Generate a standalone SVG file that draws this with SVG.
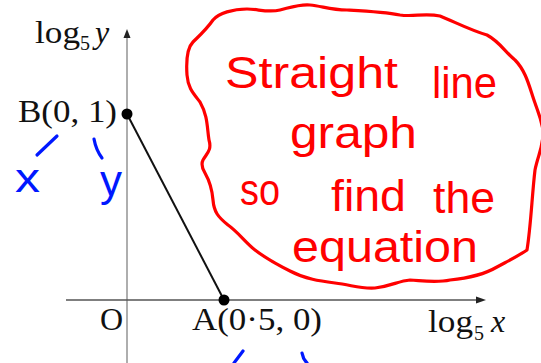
<svg xmlns="http://www.w3.org/2000/svg" width="541" height="363" viewBox="0 0 541 363">
<style>
.lbl{font-family:"Liberation Serif","Times New Roman",serif;font-size:32px;fill:#111}
.sub{font-family:"Liberation Serif","Times New Roman",serif;font-size:20px;fill:#111}
.it{font-style:italic}
.hand{font-family:"Liberation Sans",Arial,sans-serif;font-size:44px;fill:#ff0000}
.blue{font-family:"Liberation Sans",Arial,sans-serif;fill:#0018ff}
.bstroke{fill:none;stroke:#0018ff;stroke-width:3.2;stroke-linecap:round}
</style>
<rect width="541" height="363" fill="#ffffff"/>
<g id="axes">
  <line x1="127" y1="36" x2="127" y2="363" stroke="#9a9a9a" stroke-width="1.6"/>
  <polygon points="127,29 123.5,38 130.5,38" fill="#222"/>
  <line x1="66" y1="300" x2="478" y2="300" stroke="#555" stroke-width="1.6"/>
  <polygon points="486,300 476,296.5 476,303.5" fill="#222"/>
  <text class="lbl" x="35" y="43" textLength="45" lengthAdjust="spacingAndGlyphs">log</text>
  <text class="sub" x="80" y="50">5</text>
  <text class="lbl it" x="95" y="43">y</text>
  <text class="lbl" x="428" y="332" textLength="45" lengthAdjust="spacingAndGlyphs">log</text>
  <text class="sub" x="474" y="340">5</text>
  <text class="lbl it" x="491" y="332">x</text>
  <text class="lbl" x="100" y="330">O</text>
</g>
<g id="connectors">
  <line x1="127" y1="114" x2="224" y2="300" stroke="#111" stroke-width="2"/>
</g>
<g id="nodeB">
  <circle cx="127" cy="114" r="5.5" fill="#000"/>
  <text class="lbl" x="18" y="122" textLength="99" lengthAdjust="spacingAndGlyphs">B(0, 1)</text>
</g>
<g id="nodeA">
  <circle cx="224" cy="300" r="5.5" fill="#000"/>
  <text class="lbl" x="192" y="330" textLength="130" lengthAdjust="spacingAndGlyphs">A(0·5, 0)</text>
</g>
<g id="annotation">
  <path d="M203,160 C207,153 212,150 209,140 C207,128 208,116 200,102 C193,93 188,88 187,75 C186,60 187,48 193,42 C198,37 206,30 213,20 C219,13 233,9 247,9 C258,9 268,13 280,10 C292,7 300,4 310,5 C322,6 330,10 347,10 C365,11 385,12 400,15 C413,17 425,13 440,16 C455,22 470,30 487,35 C500,42 505,52 515,60 C527,72 530,90 535,103 C538,112 541,118 543,130 C544,145 538,155 535,170 C532,195 531,225 527,250 C520,255 510,260 497,267 C485,274 470,278 450,280 C437,283 425,281 410,280 C398,281 392,286 375,288 C360,289 352,285 335,283 C320,281 305,279 290,271 C278,265 268,260 255,250 C245,242 238,232 228,225 C218,217 214,212 213,200 C212,188 209,180 205,173 C202,168 201,164 203,160 Z" fill="none" stroke="#ff0000" stroke-width="3.2" stroke-linejoin="round"/>
  <text class="hand" x="225" y="88" font-size="50" textLength="173" lengthAdjust="spacingAndGlyphs">Straight</text>
  <text class="hand" x="432" y="98" textLength="65" lengthAdjust="spacingAndGlyphs">line</text>
  <text class="hand" x="290" y="148" textLength="127" lengthAdjust="spacingAndGlyphs">graph</text>
  <text class="hand" x="240" y="205" font-size="46" textLength="40" lengthAdjust="spacingAndGlyphs">so</text>
  <text class="hand" x="331" y="211" textLength="75" lengthAdjust="spacingAndGlyphs">find</text>
  <text class="hand" x="433" y="213" textLength="62" lengthAdjust="spacingAndGlyphs">the</text>
  <text class="hand" x="292" y="262" textLength="186" lengthAdjust="spacingAndGlyphs">equation</text>
</g>
<g id="blue-notes">
  <path class="bstroke" d="M37,155 L57,136"/>
  <path class="bstroke" d="M94,139 Q96,150 102,158"/>
  <text class="blue" x="15" y="192" font-size="40" textLength="25" lengthAdjust="spacingAndGlyphs">x</text>
  <text class="blue" x="100" y="196" font-size="44" textLength="22" lengthAdjust="spacingAndGlyphs">y</text>
  <path class="bstroke" d="M234,363 L243,351"/>
  <path class="bstroke" d="M302,353 Q303,359 307,363"/>
</g>
</svg>
